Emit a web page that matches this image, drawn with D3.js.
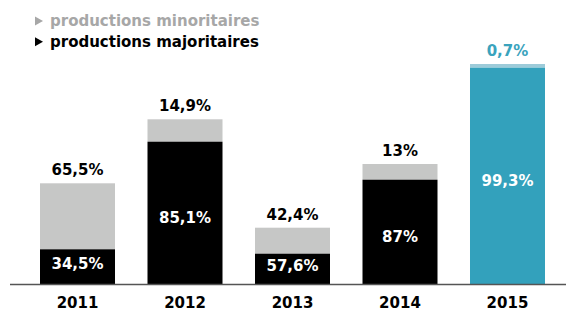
<!DOCTYPE html>
<html>
<head>
<meta charset="utf-8">
<script src="https://cdn.jsdelivr.net/npm/d3@7"></script>
<style>
  html, body { margin: 0; padding: 0; background: #fff; }
  svg { display: block; font-family: "DejaVu Sans", sans-serif; font-weight: bold; }
</style>
</head>
<body>
<svg id="chart" width="566" height="311"></svg>
<script>
const years = ["2011", "2012", "2013", "2014", "2015"];
// bar segment heights (relative volume)
const majoritaires = [34.7, 142.3, 30.3, 104.3, 216.3];
const minoritaires = [66.0, 22.4, 26.0, 15.7, 3.7];
const majLabels = ["34,5%", "85,1%", "57,6%", "87%", "99,3%"];
const minLabels = ["65,5%", "14,9%", "42,4%", "13%", "0,7%"];
const legendItems = ["productions minoritaires", "productions majoritaires"];

const COLORS = {
  min: "#c6c7c6",
  maj: "#000000",
  hiMin: "#9dcbd9",
  hiMaj: "#33a1bc",
  legendMin: "#a7a7a7",
  axis: "#555555",
};

const svg = d3.select("#chart");
const baseY = 284;

const x = d3.scaleBand().domain(years).range([40, 545]).paddingInner(0.3023).paddingOuter(0);
const y = d3.scaleLinear().domain([0, 220]).range([baseY, 64]);

const rows = years.map((yr, i) => ({
  year: yr,
  maj: majoritaires[i],
  min: minoritaires[i],
  majLabel: majLabels[i],
  minLabel: minLabels[i],
  highlight: yr === "2015",
}));

// legend
const legend = svg.append("g");
legendItems.forEach((txt, i) => {
  const ly = 26 + i * 20.7;
  const col = i === 0 ? COLORS.legendMin : "#000";
  legend.append("path")
    .attr("d", `M35,${ly - 9.5}L43,${ly - 5}L35,${ly - 0.5}Z`)
    .attr("fill", col);
  legend.append("text")
    .attr("x", 50)
    .attr("y", ly)
    .attr("font-size", 15)
    .attr("fill", col)
    .text(txt);
});

const bars = svg.append("g")
  .selectAll("g")
  .data(rows)
  .join("g");

bars.append("rect")
  .attr("x", (d) => x(d.year))
  .attr("width", x.bandwidth())
  .attr("y", (d) => y(d.maj + d.min))
  .attr("height", (d) => y(d.maj) - y(d.maj + d.min))
  .attr("fill", (d) => (d.highlight ? COLORS.hiMin : COLORS.min));

bars.append("rect")
  .attr("x", (d) => x(d.year))
  .attr("width", x.bandwidth())
  .attr("y", (d) => y(d.maj))
  .attr("height", (d) => y(0) - y(d.maj))
  .attr("fill", (d) => (d.highlight ? COLORS.hiMaj : COLORS.maj));

// labels above bars
bars.append("text")
  .attr("x", (d) => x(d.year) + x.bandwidth() / 2)
  .attr("y", (d) => y(d.maj + d.min) - 8)
  .attr("text-anchor", "middle")
  .attr("font-size", 15)
  .attr("fill", (d) => (d.highlight ? "#3aa3bd" : "#000"))
  .text((d) => d.minLabel);

// labels inside the main segment
bars.append("text")
  .attr("x", (d) => x(d.year) + x.bandwidth() / 2)
  .attr("y", (d) => {
    const mid = (y(d.maj) + y(0)) / 2;
    return y(0) - y(d.maj) < 40 ? mid + 2 : mid + 10;
  })
  .attr("text-anchor", "middle")
  .attr("font-size", 15)
  .attr("fill", "#fff")
  .text((d) => d.majLabel);

// baseline
svg.append("line")
  .attr("x1", 10)
  .attr("x2", 566)
  .attr("y1", baseY + 0.5)
  .attr("y2", baseY + 0.5)
  .attr("stroke", COLORS.axis)
  .attr("stroke-width", 1.5);

// year axis labels
const xAxis = d3.axisBottom(x).tickSize(0).tickPadding(0);
const axisG = svg.append("g")
  .attr("transform", `translate(0, ${baseY})`)
  .call(xAxis);
axisG.select(".domain").remove();
axisG.selectAll("text")
  .attr("dy", null)
  .attr("y", 24)
  .attr("font-size", 15)
  .attr("font-family", "DejaVu Sans, sans-serif")
  .attr("font-weight", "bold")
  .attr("fill", "#000");
</script>
</body>
</html>
